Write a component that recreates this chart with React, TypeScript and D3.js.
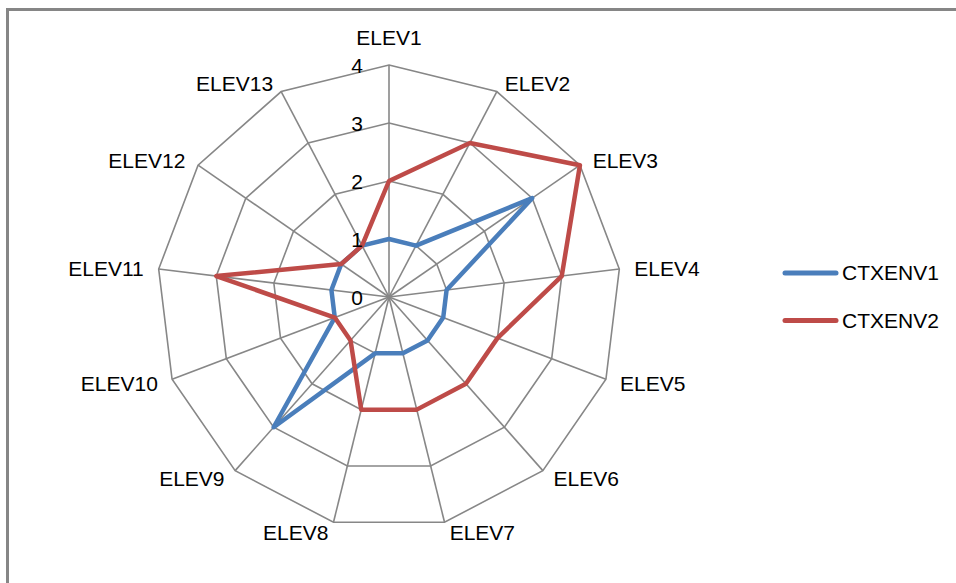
import React from "react";
import * as d3 from "d3";

const categories = ["ELEV1","ELEV2","ELEV3","ELEV4","ELEV5","ELEV6","ELEV7","ELEV8","ELEV9","ELEV10","ELEV11","ELEV12","ELEV13"];
const ctxenv1 = [1,1,3,1,1,1,1,1,3,1,1,1,1];
const ctxenv2 = [2,3,4,3,2,2,2,2,1,1,3,1,1];
const tickValues = [0,1,2,3,4];
const seriesNames = ["CTXENV1","CTXENV2"];
const seriesColors = ["#4a7ebb","#be4b48"];

const W = 956, H = 583;
const cx = 389, cy = 297, R = 232;
const FONT = "'Liberation Sans', Arial, sans-serif";
const FS = 21;

export default function App() {
  const r = d3.scaleLinear().domain([0, 4]).range([0, R]);
  const angle = d3.scaleLinear().domain([0, categories.length]).range([0, 2 * Math.PI]);
  const pt = (i: number, v: number): [number, number] => {
    const a = angle(i);
    return [cx + r(v) * Math.sin(a), cy - r(v) * Math.cos(a)];
  };
  const closedLine = d3.line<[number, number]>().curve(d3.curveLinearClosed);
  const series = [ctxenv1, ctxenv2];

  return (
    <svg width={W} height={H} style={{ position: "absolute", left: 0, top: 0 }} fontFamily={FONT}>
      <rect width={W} height={H} fill="#fff" />
      <path d={`M7.5,${H + 5}V9.5H${W + 5}`} fill="none" stroke="#868686" strokeWidth={3} />
      {tickValues.slice(1).map(t => (
        <path key={t} d={closedLine(categories.map((_, i) => pt(i, t))) || ""} fill="none" stroke="#878787" strokeWidth={1.6} />
      ))}
      {categories.map((_, i) => {
        const [x, y] = pt(i, 4);
        return <line key={i} x1={cx} y1={cy} x2={x} y2={y} stroke="#878787" strokeWidth={1.6} />;
      })}
      {series.map((s, k) => (
        <path key={k} d={closedLine(s.map((v, i) => pt(i, v))) || ""} fill="none" stroke={seriesColors[k]} strokeWidth={4.5} strokeLinejoin="round" />
      ))}
      {tickValues.map(t => (
        <text key={t} x={cx - 26} y={cy - r(t) + 1} dy="0.35em" textAnchor="end" fontSize={FS} fill="#000">{t}</text>
      ))}
      {categories.map((c, i) => {
        const a = angle(i);
        const s = Math.sin(a), co = Math.cos(a);
        const [vx, vy] = pt(i, 4);
        let anchor = "middle", x = vx, y = vy - 27;
        if (s > 0.05) { anchor = "start"; x = vx + 2 + 13 * s; y = vy - 10 * co + 1; }
        else if (s < -0.05) { anchor = "end"; x = vx - 2 + 13 * s; y = vy - 10 * co + 1; }
        return <text key={c} x={x} y={y} dy="0.35em" textAnchor={anchor} fontSize={FS} fill="#000">{c}</text>;
      })}
      {seriesNames.map((n, k) => (
        <g key={n} transform={`translate(0,${273 + k * 47.5})`}>
          <line x1={785} x2={836} y1={0} y2={0} stroke={seriesColors[k]} strokeWidth={5} strokeLinecap="round" />
          <text x={842} y={0} dy="0.35em" fontSize={FS} fill="#000">{n}</text>
        </g>
      ))}
    </svg>
  );
}
